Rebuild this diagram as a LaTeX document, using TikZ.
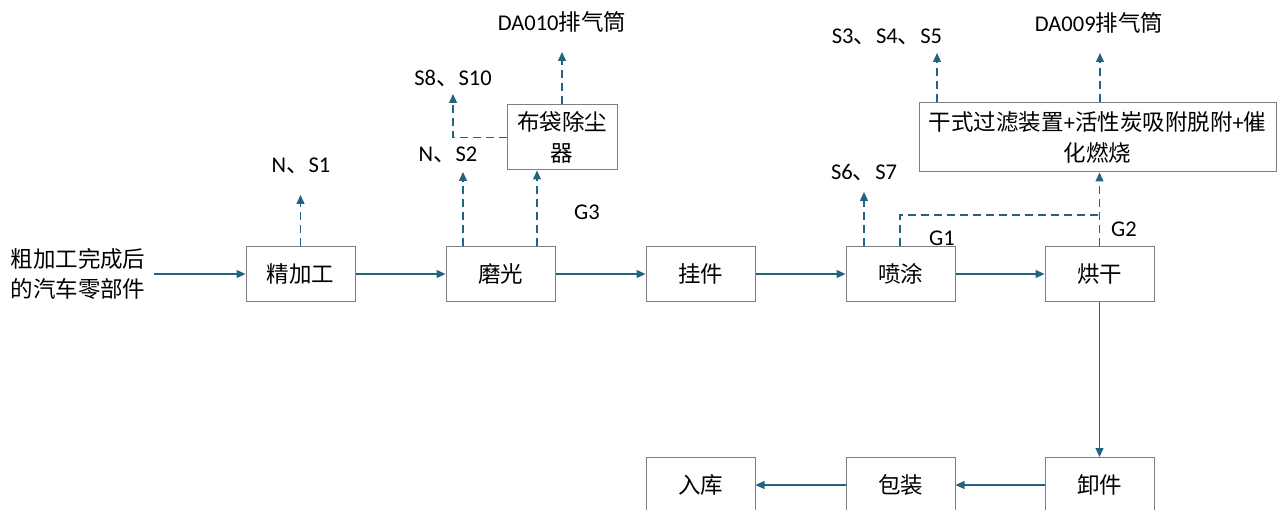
\documentclass[tikz,border=0pt]{standalone}
\usepackage{fontspec}
\setmainfont{Noto Sans CJK SC}
\newfontfamily\cjk{Noto Sans CJK SC}
\newfontfamily\lat{Carlito}
\usetikzlibrary{arrows.meta}
\definecolor{lc}{RGB}{36,98,130}
\definecolor{bc}{RGB}{128,128,128}
\begin{document}
\begin{tikzpicture}[x=1pt,y=-1pt,
  box/.style={draw=bc,line width=1pt,minimum width=109pt,minimum height=55pt,inner sep=0pt,font=\fontsize{22.5}{31}\selectfont,align=center},
  lbl/.style={inner sep=0pt,font=\fontsize{22.5}{31}\selectfont\lat},
  flow/.style={draw=lc,line width=1.3pt,-{Triangle[length=9pt,width=8pt]}},
  dflow/.style={flow,dash pattern=on 8pt off 5pt},
  dline/.style={draw=lc,line width=1.3pt,dash pattern=on 8pt off 5pt}]
\useasboundingbox (0,0) rectangle (1277,510);
% boxes
\node[box] (jing) at (300.5,274) {精加工};
\node[box] (mo) at (500.5,274) {磨光};
\node[box] (gua) at (700.5,274) {挂件};
\node[box] (pen) at (900.5,274) {喷涂};
\node[box] (hong) at (1099.5,274) {烘干};
\node[box] (xie) at (1099.5,485) {卸件};
\node[box] (bao) at (900.5,485) {包装};
\node[box] (ru) at (700.5,485) {入库};
\node[box,minimum width=110pt,minimum height=65pt] (bd) at (562,137.5) {布袋除尘\\器};
\node[box,minimum width=357pt,minimum height=69pt] (cat) at (1097.5,137.5) {干式过滤装置{\lat+}活性炭吸附脱附{\lat+}催\\化燃烧};
% input text
\node[inner sep=0pt,align=center,font=\fontsize{22.5}{30}\selectfont] (in) at (78,274) {粗加工完成后\\的汽车零部件};
% labels
\node[lbl] (ns1) at (301,166) {N{\cjk 、}S1};
\node[lbl] (ns2) at (448,155) {N{\cjk 、}S2};
\node[lbl] (s810) at (453,78) {S8{\cjk 、}S10};
\node[lbl] (da10) at (562,22) {DA010{\cjk 排气筒}};
\node[lbl] (g3) at (587,212) {G3};
\node[lbl] (s345) at (887,37) {S3{\cjk 、}S4{\cjk 、}S5};
\node[lbl] (da9) at (1099,23) {DA009{\cjk 排气筒}};
\node[lbl] (s67) at (864,173) {S6{\cjk 、}S7};
\node[lbl] (g1) at (942,238) {G1};
\node[lbl] (g2) at (1124,229) {G2};
% free ends
\coordinate (t1) at (300.5,195);
\coordinate (t2) at (463,172);
\coordinate (t3) at (453,94);
\coordinate (t4) at (562,52);
\coordinate (t5) at (864,192);
\coordinate (t6) at (937,53);
\coordinate (t7) at (1100,53);
\coordinate (j1) at (1100,215);
\coordinate (p1) at (900,246);
% solid flows
\draw[flow,shorten <=8pt] (in.east) -- (jing.west);
\draw[flow] (jing.east) -- (mo.west);
\draw[flow] (mo.east) -- (gua.west);
\draw[flow] (gua.east) -- (pen.west);
\draw[flow] (pen.east) -- (hong.west);
\draw[flow] (hong.south) -- (xie.north);
\draw[flow] (xie.west) -- (bao.east);
\draw[flow] (bao.west) -- (ru.east);
% dashed
\draw[dflow] (jing.north) -- (t1);
\draw[dflow] (t2 |- mo.north) -- (t2);
\draw[dflow] ([xshift=-25pt]bd.south |- mo.north) -- ([xshift=-25pt]bd.south);
\draw[dflow] (bd.west) -| (t3);
\draw[dflow] (bd.north) -- (t4);
\draw[dflow] (t5 |- pen.north) -- (t5);
\draw[dline] (p1) |- (j1);
\draw[dflow] (hong.north) -- (hong.north |- cat.south);
\draw[dflow] (t6 |- cat.north) -- (t6);
\draw[dflow] (t7 |- cat.north) -- (t7);
\end{tikzpicture}
\end{document}
